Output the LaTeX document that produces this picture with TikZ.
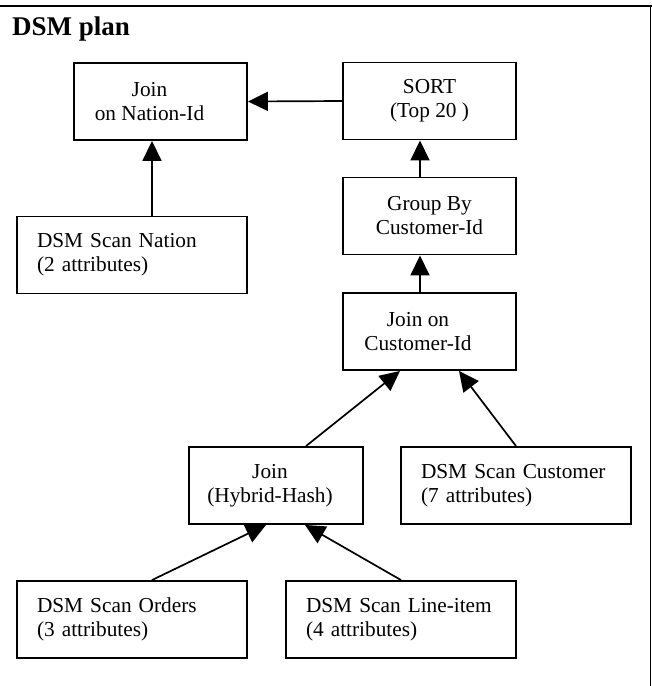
\documentclass[tikz,border=0pt]{standalone}
\usepackage{fontspec}
\setmainfont{Liberation Serif}
\usepackage{tikz}
\usetikzlibrary{arrows.meta}

\tikzset{
  boxtext/.style={font=\fontsize{21.3}{24}\selectfont},
  opbox/.style={draw, line width=1.9pt, minimum width=173pt, minimum height=77pt, inner sep=0pt},
  optext/.style={boxtext, align=center, inner sep=0pt},
  scanbox/.style={draw, line width=1.9pt, boxtext, minimum width=230pt, minimum height=77pt,
    text width=190pt, inner xsep=20pt, inner ysep=0pt, align=left},
  conn/.style={line width=1.7pt, -{Triangle[length=20pt,width=19pt]}}
}

\begin{document}
\begin{tikzpicture}[x=1pt, y=-1pt]
        \useasboundingbox (0,0) rectangle (652,686);
        % frame
        \draw[line width=1.9pt] (0,6) -- (652,6);
        \draw[line width=1.9pt] (650.5,7) -- (650.5,686);
        \node[anchor=base west, inner sep=0pt, font=\fontsize{27}{30}\selectfont\bfseries] (title) at (12,35) {DSM plan};

        % operators
        \node[opbox, label={[optext, xshift=-11pt]center:{Join\\on Nation-Id}}] (jn) at (160.5,101.5) {};
        \node[opbox, label={[optext]center:{SORT\\(Top 20 )}}] (srt) at (429.5,101) {};
        \node[opbox, label={[optext]center:{Group By\\Customer-Id}}] (grp) at (429.5,216) {};
        \node[opbox, label={[optext, xshift=-11.5pt]center:{Join on\\Customer-Id}}] (jc) at (429.5,331.5) {};
        \node[opbox, minimum width=174pt, label={[optext, xshift=-6pt]center:{Join\\(Hybrid-Hash)}}] (hh) at (276,485.5) {};

        % scans
        \node[scanbox] (nat) at (132,255) {DSM Scan Nation\\(2 attributes)};
        \node[scanbox] (cu) at (516,485.5) {DSM Scan Customer\\(7 attributes)};
        \node[scanbox] (ord) at (132,619.5) {DSM Scan Orders\\(3 attributes)};
        \node[scanbox] (li) at (401,619.5) {DSM Scan Line-item\\(4 attributes)};

        % data flow
        \draw[conn] (srt.west) -- (jn.east);
        \draw[conn] ([xshift=20pt]nat.north) -- ([xshift=-8.5pt]jn.south);
        \draw[conn] ([xshift=-9.5pt]grp.north) -- ([xshift=-9.5pt]srt.south);
        \draw[conn] ([xshift=-9.5pt]jc.north) -- ([xshift=-9.5pt]grp.south);
        \draw[conn] ([xshift=30pt]hh.north) -- ([xshift=-29.5pt]jc.south);
        \draw[conn] (cu.north) -- ([xshift=29.5pt]jc.south);
        \draw[conn] ([xshift=20pt]ord.north) -- ([xshift=-10pt]hh.south);
        \draw[conn] (li.north) -- ([xshift=29pt]hh.south);
    \end{tikzpicture}
\end{document}
